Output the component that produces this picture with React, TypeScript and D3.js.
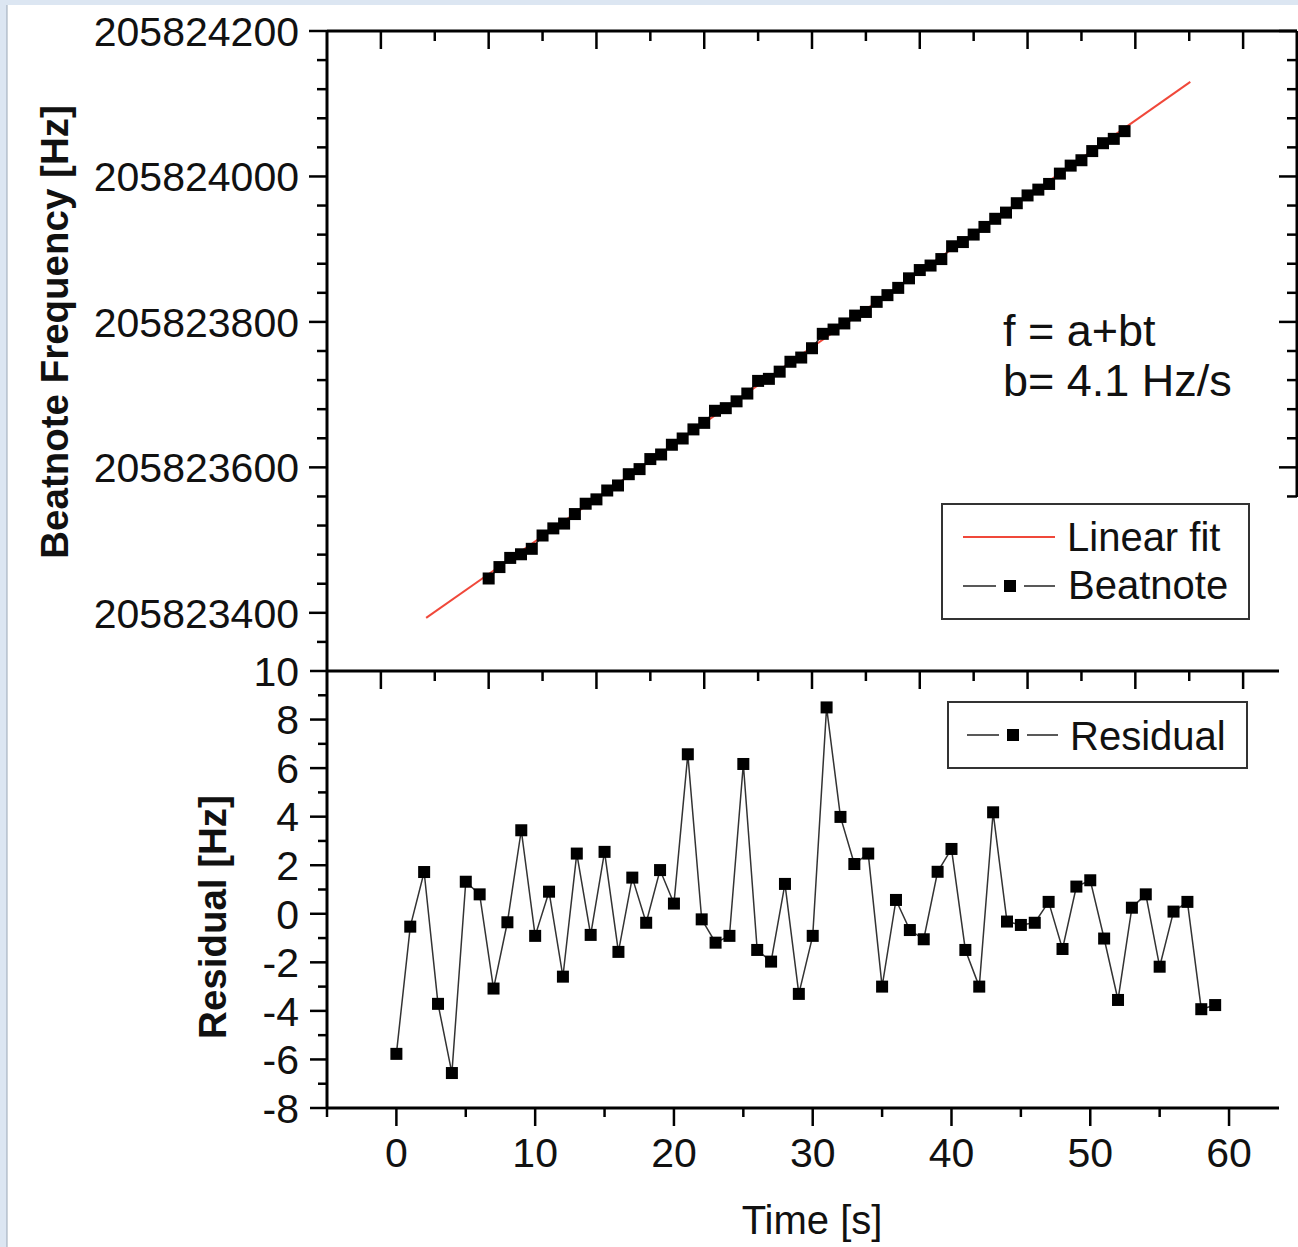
import React from 'react';
import * as d3 from 'd3';

// time axis, seconds
const time = [0, 1, 2, 3, 4, 5, 6, 7, 8, 9, 10, 11, 12, 13, 14, 15, 16, 17, 18, 19,
  20, 21, 22, 23, 24, 25, 26, 27, 28, 29, 30, 31, 32, 33, 34, 35, 36, 37, 38, 39,
  40, 41, 42, 43, 44, 45, 46, 47, 48, 49, 50, 51, 52, 53, 54, 55, 56, 57, 58, 59];

// beatnote frequency [Hz]
const beatnote = [
  205823447.2, 205823462.9, 205823475.5, 205823480.5, 205823488.0, 205823506.3, 205823516.1, 205823522.7,
  205823535.8, 205823550.0, 205823556.0, 205823568.2, 205823575.1, 205823590.6, 205823597.6, 205823611.4,
  205823617.7, 205823631.1, 205823639.7, 205823652.2, 205823661.2, 205823677.8, 205823681.4, 205823690.8,
  205823701.5, 205823718.9, 205823721.7, 205823731.6, 205823745.2, 205823751.0, 205823763.8, 205823783.6,
  205823789.5, 205823797.9, 205823808.7, 205823813.7, 205823827.6, 205823836.8, 205823846.8, 205823859.9,
  205823871.3, 205823877.5, 205823886.4, 205823904.0, 205823909.8, 205823920.1, 205823930.6, 205823941.8,
  205823950.3, 205823963.2, 205823973.9, 205823981.9, 205823989.7, 205824003.9, 205824014.9, 205824022.3,
  205824034.9, 205824045.7, 205824051.7, 205824062.3];

// residual [Hz], lower panel
const residual = [
  -5.77, -0.53, 1.72, -3.71, -6.56, 1.32, 0.80, -3.08, -0.35, 3.44,
  -0.91, 0.91, -2.59, 2.48, -0.87, 2.55, -1.57, 1.49, -0.37, 1.80,
  0.42, 6.57, -0.23, -1.19, -0.91, 6.17, -1.49, -1.97, 1.23, -3.30,
  -0.91, 8.50, 3.99, 2.05, 2.48, -3.00, 0.57, -0.67, -1.05, 1.73,
  2.67, -1.49, -3.00, 4.18, -0.32, -0.46, -0.37, 0.49, -1.45, 1.12,
  1.38, -1.02, -3.55, 0.25, 0.80, -2.18, 0.09, 0.49, -3.93, -3.76];

// linear fit end points
const fitTime = [-5.8, 65.1];
const fitFreq = [205823393, 205824130];

const freqTicks = [205823400, 205823600, 205823800, 205824000, 205824200];
const residualTicks = [-8, -6, -4, -2, 0, 2, 4, 6, 8, 10];
const timeTicks = [0, 10, 20, 30, 40, 50, 60];

const FONT = 'Liberation Sans, Arial, Helvetica, sans-serif';

export default function App() {
  const W = 1298, H = 1247;
  const left = 327, rightTop = 1297, rightBot = 1279;
  const yTopEdge = 31, ySplit = 671, yBotEdge = 1108;
  const rightAxisEnd = 497;

  const xTop = d3.scaleLinear().domain([-15, 75]).range([left, rightTop]);
  const xBot = d3.scaleLinear().domain([-5, 63.6]).range([left, rightBot]);
  const yTop = d3.scaleLinear().domain([205823320, 205824200]).range([ySplit, yTopEdge]);
  const yBot = d3.scaleLinear().domain([-8, 10]).range([yBotEdge, ySplit]);

  const fitLine = d3.line<number>().x((d, i) => xTop(fitTime[i])).y(d => yTop(d));
  const beatLine = d3.line<number>().x((d, i) => xTop(time[i])).y(d => yTop(d));
  const resLine = d3.line<number>().x((d, i) => xBot(time[i])).y(d => yBot(d));

  const ms = 12; // marker size

  // minor ticks
  const freqMinor = d3.range(205823360, 205824201, 40).filter(v => !freqTicks.includes(v));
  const resMinor = d3.range(-7, 10, 2);
  const timeMinorBot = [-5, 5, 15, 25, 35, 45, 55];
  const topMajor = d3.range(-10, 71, 10);
  const topMinor = d3.range(-5, 66, 10);

  const ax = { stroke: '#000', strokeWidth: 3 };
  const tk = { stroke: '#000', strokeWidth: 2.5 };

  // legend symbol: line - square - line
  const legendSym = (cx: number, cy: number, x0: number, x1: number) => (
    <g>
      <line x1={x0} x2={cx - 14} y1={cy} y2={cy} stroke="#222" strokeWidth={1.5} />
      <line x1={cx + 14} x2={x1} y1={cy} y2={cy} stroke="#222" strokeWidth={1.5} />
      <rect x={cx - ms / 2} y={cy - ms / 2} width={ms} height={ms} fill="#000" />
    </g>
  );

  return (
    <svg width={W} height={H} style={{ position: 'absolute', left: 0, top: 0, background: '#fff' }}
      fontFamily={FONT}>
      <rect x={0} y={0} width={W} height={H} fill="#fff" />
      {/* window frame remnants */}
      <rect x={0} y={0} width={W} height={5} fill="#dce6f2" />
      <rect x={0} y={0} width={7} height={H} fill="#dce6f2" />
      <line x1={7} y1={5} x2={7} y2={H} stroke="#9aa7b6" strokeWidth={1} />

      {/* ---------- upper panel ---------- */}
      <path d={fitLine(fitFreq) || ''} fill="none" stroke="#f0483a" strokeWidth={2} />
      <path d={beatLine(beatnote) || ''} fill="none" stroke="#222" strokeWidth={1.5} />
      {beatnote.map((v, i) => (
        <rect key={'b' + i} x={xTop(time[i]) - ms / 2} y={yTop(v) - ms / 2} width={ms} height={ms} fill="#000" />
      ))}

      {/* frame */}
      <line x1={left} y1={yTopEdge} x2={rightTop} y2={yTopEdge} {...ax} />
      <line x1={left} y1={yTopEdge} x2={left} y2={yBotEdge} {...ax} />
      <line x1={rightTop} y1={yTopEdge} x2={rightTop} y2={rightAxisEnd} {...ax} />
      <line x1={left} y1={ySplit} x2={rightBot} y2={ySplit} {...ax} />
      <line x1={left} y1={yBotEdge} x2={rightBot} y2={yBotEdge} {...ax} />

      {/* top axis ticks (inward) */}
      {topMajor.map(v => <line key={'tm' + v} x1={xTop(v)} x2={xTop(v)} y1={yTopEdge} y2={yTopEdge + 18} {...tk} />)}
      {topMinor.map(v => <line key={'tn' + v} x1={xTop(v)} x2={xTop(v)} y1={yTopEdge} y2={yTopEdge + 10} {...tk} />)}
      {/* split axis ticks (down into lower panel) */}
      {topMajor.map(v => <line key={'sm' + v} x1={xTop(v)} x2={xTop(v)} y1={ySplit} y2={ySplit + 18} {...tk} />)}
      {topMinor.map(v => <line key={'sn' + v} x1={xTop(v)} x2={xTop(v)} y1={ySplit} y2={ySplit + 10} {...tk} />)}

      {/* left frequency axis */}
      {freqTicks.map(v => (
        <g key={'f' + v}>
          <line x1={left - 18} x2={left} y1={yTop(v)} y2={yTop(v)} {...tk} />
          <text x={299} y={yTop(v)} dy="0.36em" textAnchor="end" fontSize={41} fill="#111">{v}</text>
        </g>
      ))}
      {freqMinor.map(v => <line key={'fm' + v} x1={left - 10} x2={left} y1={yTop(v)} y2={yTop(v)} {...tk} />)}
      {/* right frequency axis (inward) */}
      {freqTicks.concat(freqMinor).filter(v => yTop(v) <= rightAxisEnd).map(v => (
        <line key={'fr' + v} x1={rightTop - (freqTicks.includes(v) ? 18 : 10)} x2={rightTop}
          y1={yTop(v)} y2={yTop(v)} {...tk} />
      ))}

      <text transform={`translate(68,332) rotate(-90)`} textAnchor="middle" fontSize={38.5} fontWeight="bold" fill="#111">
        Beatnote Frequency [Hz]
      </text>

      <text x={1003} y={346} fontSize={45} fill="#111">f = a+bt</text>
      <text x={1003} y={396} fontSize={45} fill="#111">b= 4.1 Hz/s</text>

      {/* upper legend */}
      <rect x={942} y={504} width={307} height={115} fill="#fff" stroke="#333" strokeWidth={2} />
      <line x1={963} x2={1055} y1={537} y2={537} stroke="#f0483a" strokeWidth={2} />
      <text x={1067} y={551} fontSize={40} fill="#111">Linear fit</text>
      {legendSym(1010, 586, 963, 1055)}
      <text x={1068} y={599} fontSize={40} fill="#111">Beatnote</text>

      {/* ---------- lower panel ---------- */}
      <path d={resLine(residual) || ''} fill="none" stroke="#333" strokeWidth={1.5} />
      {residual.map((v, i) => (
        <rect key={'r' + i} x={xBot(time[i]) - ms / 2} y={yBot(v) - ms / 2} width={ms} height={ms} fill="#000" />
      ))}

      {residualTicks.map(v => (
        <g key={'rt' + v}>
          <line x1={left - 17} x2={left} y1={yBot(v)} y2={yBot(v)} {...tk} />
          <text x={299} y={yBot(v)} dy="0.36em" textAnchor="end" fontSize={41} fill="#111">{v}</text>
        </g>
      ))}
      {resMinor.map(v => <line key={'rm' + v} x1={left - 9} x2={left} y1={yBot(v)} y2={yBot(v)} {...tk} />)}

      {timeTicks.map(v => (
        <g key={'x' + v}>
          <line x1={xBot(v)} x2={xBot(v)} y1={yBotEdge} y2={yBotEdge + 18} {...tk} />
          <text x={xBot(v)} y={1167} textAnchor="middle" fontSize={41} fill="#111">{v}</text>
        </g>
      ))}
      {timeMinorBot.map(v => <line key={'xm' + v} x1={xBot(v)} x2={xBot(v)} y1={yBotEdge} y2={yBotEdge + 9} {...tk} />)}

      <text x={812} y={1234} textAnchor="middle" fontSize={40} fill="#111">Time [s]</text>
      <text transform={`translate(226,917) rotate(-90)`} textAnchor="middle" fontSize={38.5} fontWeight="bold" fill="#111">
        Residual [Hz]
      </text>

      {/* lower legend */}
      <rect x={948} y={702} width={299} height={66} fill="#fff" stroke="#333" strokeWidth={2} />
      {legendSym(1013, 735, 967, 1058)}
      <text x={1070} y={750} fontSize={40} fill="#111">Residual</text>
    </svg>
  );
}
